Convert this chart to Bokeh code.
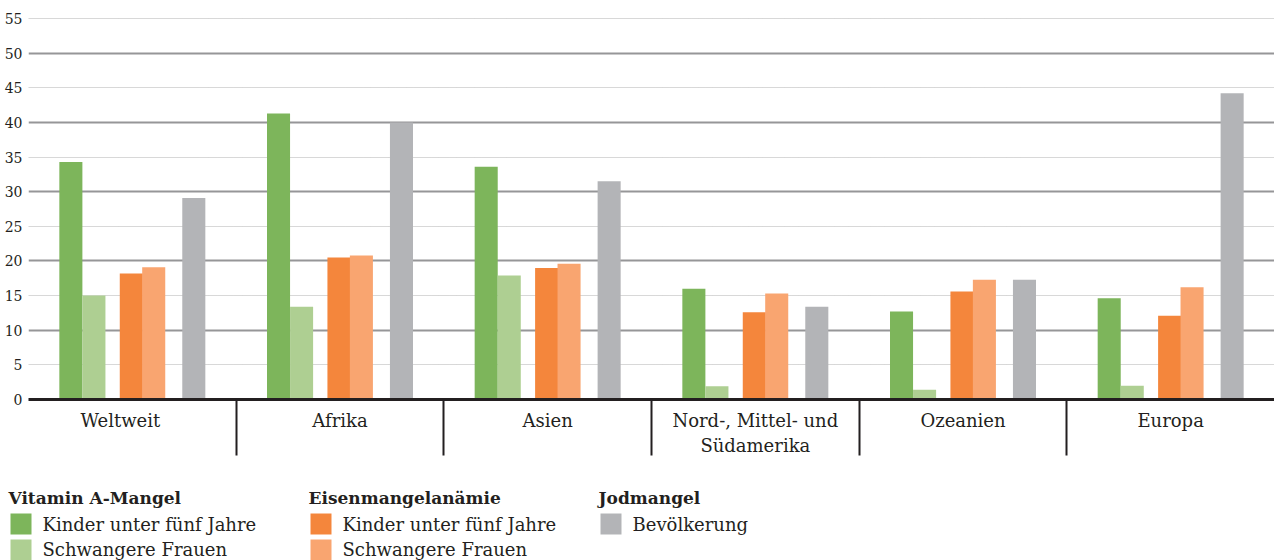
from bokeh.plotting import figure
from bokeh.models import FixedTicker, Grid, Range1d, ColumnDataSource, Row, Column
from bokeh.embed import file_html
from bokeh.resources import INLINE
from bokeh.core.properties import value

# ---------------- data ----------------
regions = ["Weltweit", "Afrika", "Asien", "Nord-, Mittel- und\nSüdamerika", "Ozeanien", "Europa"]
vit_a_children = [34.3, 41.3, 33.6, 16.0, 12.7, 14.6]
vit_a_pregnant = [15.0, 13.4, 17.9, 1.9, 1.4, 2.0]
iron_children = [18.2, 20.5, 19.0, 12.6, 15.6, 12.1]
iron_pregnant = [19.1, 20.8, 19.6, 15.3, 17.3, 16.2]
iodine_population = [29.1, 40.0, 31.5, 13.4, 17.3, 44.2]
y_tick_values = [0, 5, 10, 15, 20, 25, 30, 35, 40, 45, 50, 55]

legend_groups = ["Vitamin A-Mangel", "Eisenmangelanämie", "Jodmangel"]
legend_items = [
    ["Kinder unter fünf Jahre", "Schwangere Frauen"],
    ["Kinder unter fünf Jahre", "Schwangere Frauen"],
    ["Bevölkerung"],
]

# ---------------- style ----------------
C_GREEN = "#7db55b"
C_LGREEN = "#aecf92"
C_ORANGE = "#f4863c"
C_LORANGE = "#f9a570"
C_GRAY = "#b3b4b7"
FONT = "DejaVu Serif"
TXT = "#231f20"

series = [
    (vit_a_children, C_GREEN, 0.204),
    (vit_a_pregnant, C_LGREEN, 0.315),
    (iron_children, C_ORANGE, 0.495),
    (iron_pregnant, C_LORANGE, 0.603),
    (iodine_population, C_GRAY, 0.796),
]
bar_w = 0.111

n = len(regions)
p = figure(width=1274, height=461, output_backend="svg", toolbar_location=None,
           x_range=Range1d(0, n), y_range=Range1d(0, 56.45),
           min_border_left=28, min_border_right=0, min_border_top=8,
           min_border_bottom=62)
p.outline_line_color = None
p.background_fill_color = "white"

for vals, col, off in series:
    src = ColumnDataSource(dict(x=[i + off for i in range(n)], top=vals))
    p.vbar(x="x", top="top", bottom=0, width=bar_w, source=src,
           fill_color=col, line_color=None)

# grids
p.xgrid.visible = False
p.ygrid.ticker = FixedTicker(ticks=[v for v in y_tick_values if v % 10 == 0 and v > 0])
p.ygrid.grid_line_color = "#969698"
p.ygrid.grid_line_width = 2
minor_grid = Grid(dimension=1, ticker=FixedTicker(ticks=[v for v in y_tick_values if v % 10 == 5]),
                  grid_line_color="#b0b0b0", grid_line_width=1, grid_line_dash="1 1")
p.add_layout(minor_grid)
p.renderers.insert(0, p.renderers.pop())

# y axis
p.yaxis.ticker = FixedTicker(ticks=y_tick_values)
p.yaxis.axis_line_color = None
p.yaxis.major_tick_line_color = None
p.yaxis.minor_tick_line_color = None
p.yaxis.major_tick_out = 0
p.yaxis.major_tick_in = 0
p.yaxis.minor_tick_out = 0
p.yaxis.minor_tick_in = 0
p.yaxis.major_label_standoff = 6
p.yaxis.major_label_text_font = FONT
p.yaxis.major_label_text_font_size = "14px"
p.yaxis.major_label_text_color = TXT

# x axis: labels centred in their sections, separators as long minor ticks
bounds = [-0.115] + list(range(1, n + 1))
centers = [(bounds[i] + bounds[i + 1]) / 2 for i in range(n)]
p.xaxis.ticker = FixedTicker(ticks=centers, minor_ticks=list(range(1, n)))
p.xaxis.major_label_overrides = {c: r for c, r in zip(centers, regions)}
p.xaxis.axis_line_color = TXT
p.xaxis.axis_line_width = 3
p.xaxis.major_tick_line_color = None
p.xaxis.major_tick_out = 0
p.xaxis.major_tick_in = 0
p.xaxis.minor_tick_out = 56
p.xaxis.minor_tick_in = 0
p.xaxis.minor_tick_line_color = TXT
p.xaxis.minor_tick_line_width = 2
p.xaxis.major_label_standoff = -46
p.xaxis.major_label_text_font = FONT
p.xaxis.major_label_text_font_size = "18px"
p.xaxis.major_label_text_color = TXT

# ---------------- legend figure ----------------
lg = figure(width=1274, height=99, output_backend="svg", toolbar_location=None,
            x_range=Range1d(0, 1274), y_range=Range1d(99, 0),
            x_axis_location=None, y_axis_location=None,
            min_border=0)
lg.grid.visible = False
lg.outline_line_color = None

col_x = [8, 308, 598]
colors = [[C_GREEN, C_LGREEN], [C_ORANGE, C_LORANGE], [C_GRAY]]
hx, hy, ht = [], [], []
sx, sy, sc, tx, ty, tt = [], [], [], [], [], []
for g, x0 in enumerate(col_x):
    hx.append(x0); hy.append(36); ht.append(legend_groups[g])
    for k, lab in enumerate(legend_items[g]):
        sx.append(x0 + 12.5); sy.append(62.5 + 26 * k); sc.append(colors[g][k])
        tx.append(x0 + 34); ty.append(63 + 25 * k); tt.append(lab)

lg.text(x=hx, y=hy, text=ht, text_font=value(FONT), text_font_style="bold",
        text_font_size="17px", text_color=TXT, text_baseline="alphabetic")
lg.rect(x=sx, y=sy, width=21, height=21, fill_color=sc, line_color=None)
lg.text(x=tx, y=ty, text=tt, text_font=value(FONT), text_font_size="18px",
        text_color=TXT, text_baseline="middle")

layout = Column(children=[Row(children=[p]), Row(children=[lg])], spacing=0)
open("out.html", "w").write(file_html(layout, INLINE))
